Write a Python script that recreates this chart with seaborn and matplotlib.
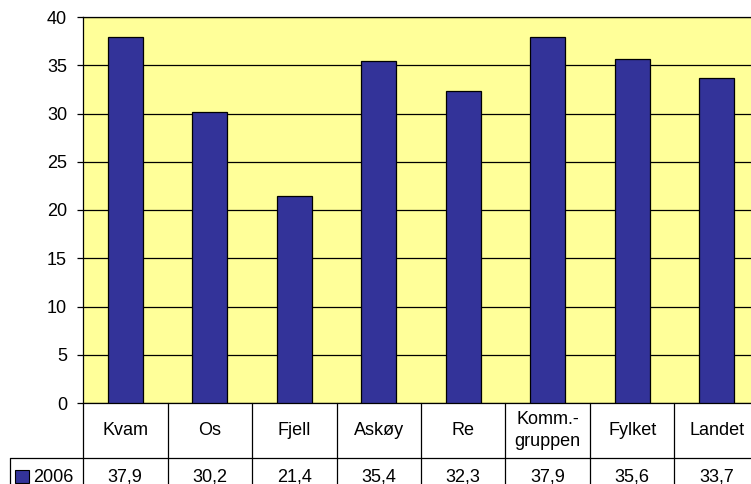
import matplotlib
matplotlib.use("Agg")
import matplotlib.pyplot as plt
from matplotlib.lines import Line2D
from matplotlib.patches import Rectangle
import seaborn as sns
import pandas as pd

# Data
categories = ["Kvam", "Os", "Fjell", "Askøy", "Re", "Komm.-\ngruppen", "Fylket", "Landet"]
values_2006 = [37.9, 30.2, 21.4, 35.4, 32.3, 37.9, 35.6, 33.7]
series_name = "2006"
y_ticks = [0, 5, 10, 15, 20, 25, 30, 35, 40]

BAR = "#333399"
BG = "#FFFF99"
FS = 13

sns.set_theme(style="white")
plt.rcParams["font.family"] = ["Liberation Sans", "DejaVu Sans"]

W, H = 751, 484
fig = plt.figure(figsize=(W / 100, H / 100), dpi=100)
fig.patch.set_facecolor("white")

# plot area (pixel layout)
left_px, top_px, bottom_px, right_px = 83, 17, 403, 759
ax = fig.add_axes([left_px / W, 1 - bottom_px / H,
                   (right_px - left_px) / W, (bottom_px - top_px) / H])
ax.set_facecolor(BG)

df = pd.DataFrame({"cat": categories, "val": values_2006})
sns.barplot(data=df, x="cat", y="val", color=BAR, saturation=1, width=0.414,
            edgecolor="black", linewidth=0.9, ax=ax, zorder=3)

ax.set_xlim(-0.5, len(categories) - 0.5)
ax.set_ylim(0, 40)
ax.set_yticks(y_ticks)
ax.set_yticklabels([str(t) for t in y_ticks], fontsize=FS, color="black")
ax.set_xticks([])
ax.set_xlabel("")
ax.set_ylabel("")
ax.yaxis.grid(True, color="black", linewidth=0.9)
ax.set_axisbelow(True)
ax.tick_params(axis="y", which="major", direction="out", length=4.5,
               width=0.9, color="black", pad=7, left=True)
for side in ["left", "top", "bottom"]:
    ax.spines[side].set_color("black")
    ax.spines[side].set_linewidth(0.9)
ax.spines["right"].set_visible(False)

# data table beneath the plot
h_ax = bottom_px - top_px
def ay(ypx):
    return (bottom_px - ypx) / h_ax

xt = ax.get_xaxis_transform()
row_line_px = 458
for i in range(len(categories) + 1):
    x = i - 0.5
    ax.add_line(Line2D([x, x], [ay(bottom_px), ay(H + 10)], transform=xt,
                       color="black", linewidth=0.9, clip_on=False))
ax.add_line(Line2D([-0.5, len(categories) - 0.5], [ay(row_line_px), ay(row_line_px)],
                   transform=xt, color="black", linewidth=0.9, clip_on=False))

for i, (c, v) in enumerate(zip(categories, values_2006)):
    ax.text(i, ay(430.5), c, transform=xt, ha="center", va="center",
            fontsize=FS, color="black", linespacing=1.35, clip_on=False)
    ax.text(i, ay(477), f"{v:.1f}".replace(".", ","), transform=xt,
            ha="center", va="center", fontsize=FS, color="black", clip_on=False)

# row header (legend key + series name)
def fx(x):
    return x / W
def fy(y):
    return 1 - y / H

fig.add_artist(Line2D([fx(10), fx(left_px)], [fy(row_line_px), fy(row_line_px)],
                      color="black", linewidth=0.9))
fig.add_artist(Line2D([fx(10), fx(10)], [fy(row_line_px), fy(H + 5)],
                      color="black", linewidth=0.9))
fig.add_artist(Rectangle((fx(15), fy(483)), fx(14), 13 / H,
                         facecolor=BAR, edgecolor="black", linewidth=0.8))
fig.text(fx(33), fy(477), series_name, ha="left", va="center",
         fontsize=FS, color="black")

fig.savefig("out.png", dpi=100)
